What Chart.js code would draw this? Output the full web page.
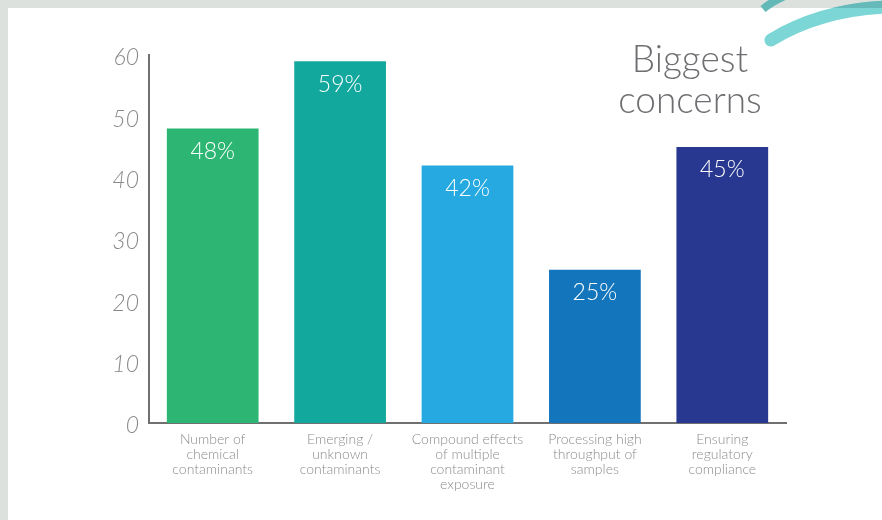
<!DOCTYPE html>
<html>
<head>
<meta charset="utf-8">
<script src="https://cdn.jsdelivr.net/npm/chart.js@4.4.1/dist/chart.umd.min.js"></script>
<style>
  html, body { margin: 0; padding: 0; background: #ffffff; }
  #frame { position: relative; width: 882px; height: 520px; overflow: hidden; background: #ffffff; }
  #frame::before { content: ""; position: absolute; left: 0; top: 0; width: 882px; height: 8px; background: #dce1de; }
  #frame::after { content: ""; position: absolute; left: 0; top: 0; width: 8px; height: 520px; background: #dce1de; }
  #chartBox { position: absolute; left: 0; top: 0; width: 882px; height: 520px; }
  #title {
    position: absolute; left: 590px; top: 37px; width: 200px; text-align: center;
    font-family: "Lato", "Open Sans", sans-serif; font-weight: 300;
    font-size: 37px; line-height: 41px; color: #6d6e71;
  }
  #swoosh { position: absolute; left: 0; top: 0; }
</style>
</head>
<body>
<div id="frame">
  <div id="chartBox"><canvas id="concernsChart" width="882" height="520"></canvas></div>
  <svg id="swoosh" width="882" height="520">
    <defs>
      <clipPath id="topBand"><rect x="0" y="0" width="882" height="8"></rect></clipPath>
    </defs>
    <path d="M 763 9 Q 775 -1 795 -8" stroke="#63b9b8" stroke-width="8" fill="none"></path>
    <path d="M 771 40 Q 822 9 890 7" stroke="#7bd6d5" stroke-width="13" fill="none" stroke-linecap="round"></path>
    <path d="M 771 40 Q 822 9 890 7" stroke="#65b9b8" stroke-width="13" fill="none" clip-path="url(#topBand)"></path>
  </svg>
  <div id="title">Biggest<br>concerns</div>
</div>
<script>
const categories = [
  ["Number of", "chemical", "contaminants"],
  ["Emerging /", "unknown", "contaminants"],
  ["Compound effects", "of multiple", "contaminant", "exposure"],
  ["Processing high", "throughput of", "samples"],
  ["Ensuring", "regulatory", "compliance"],
];
const shares = [48, 59, 42, 25, 45];
const barColors = ["#2db673", "#13a89e", "#25a9e0", "#1375bc", "#283890"];
const yTicks = [0, 10, 20, 30, 40, 50, 60];

const valueLabels = {
  id: "valueLabels",
  afterDatasetsDraw(chart) {
    const { ctx } = chart;
    const meta = chart.getDatasetMeta(0);
    ctx.save();
    ctx.fillStyle = "#ffffff";
    ctx.font = "300 23px Lato, 'Open Sans', sans-serif";
    ctx.textAlign = "center";
    ctx.textBaseline = "middle";
    meta.data.forEach((bar, i) => {
      ctx.fillText(`${shares[i]}%`, bar.x, bar.y + 23);
    });
    ctx.restore();
  },
};

new Chart(document.getElementById("concernsChart"), {
  type: "bar",
  data: {
    labels: categories,
    datasets: [
      {
        data: shares,
        backgroundColor: barColors,
        borderWidth: 0,
        barPercentage: 0.72,
        categoryPercentage: 1,
      },
    ],
  },
  options: {
    responsive: false,
    animation: false,
    layout: { padding: { top: 55, right: 96, left: 0, bottom: 0 } },
    plugins: {
      legend: { display: false },
      tooltip: { enabled: false },
    },
    scales: {
      x: {
        grid: { display: false, drawTicks: false },
        border: { display: true, color: "#707070", width: 2 },
        ticks: {
          padding: 9,
          color: "#8c8c8c",
          maxRotation: 0,
          autoSkip: false,
          font: { family: "Lato, 'Open Sans', sans-serif", size: 14, weight: 300, lineHeight: 1.08 },
        },
        afterFit(scale) { scale.height = 97; },
      },
      y: {
        min: 0,
        max: 60,
        afterBuildTicks(scale) { scale.ticks = yTicks.map((v) => ({ value: v })); },
        grid: { display: false, drawTicks: false },
        border: { display: true, color: "#707070", width: 2 },
        ticks: {
          padding: 10,
          labelOffset: 3,
          color: "#8a8a8a",
          font: { family: "Lato, 'Open Sans', sans-serif", size: 23, weight: 300, style: "italic" },
        },
        afterFit(scale) { scale.width = 149; },
      },
    },
  },
  plugins: [valueLabels],
});
</script>
</body>
</html>
